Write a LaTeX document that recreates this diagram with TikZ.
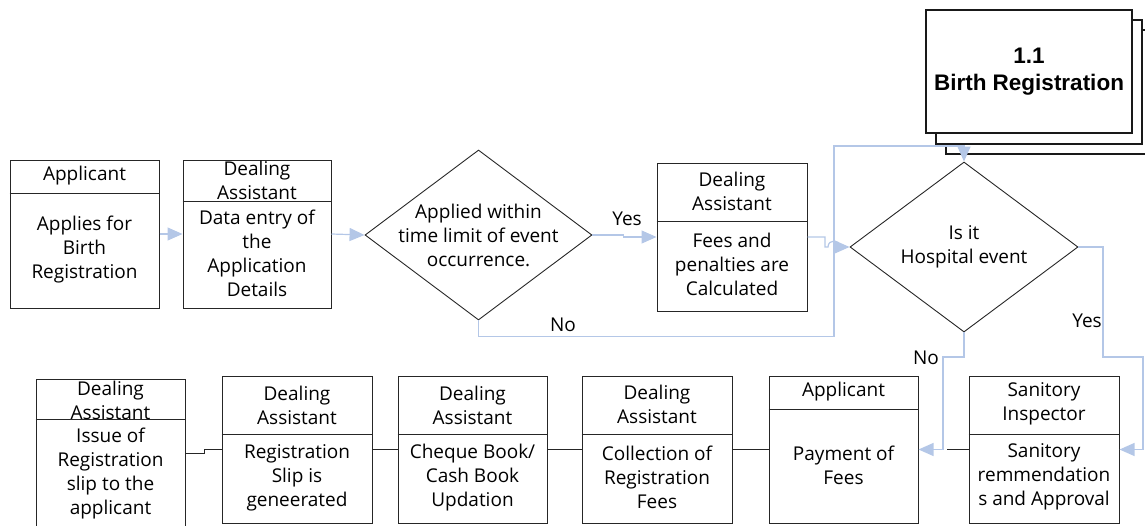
\documentclass[tikz,border=0pt]{standalone}
\usepackage{fontspec}
\setmainfont{Open Sans}
\newfontfamily\titlefont{Liberation Sans}
\usetikzlibrary{arrows.meta,shapes.geometric}

\definecolor{flowblue}{RGB}{180,199,231}

\tikzset{
  box/.style={draw=black!85, line width=1pt, inner sep=0pt},
  stackbox/.style={draw=black!90, line width=1.6pt, fill=white, inner sep=0pt},
  cond/.style={diamond, draw=black!85, line width=0.9pt, inner sep=0pt},
  txt/.style={align=center, inner sep=0pt, font=\fontsize{19}{24}\selectfont},
  flow/.style={draw=flowblue, line width=1.2pt, -{Triangle[length=15pt,width=13pt,fill=flowblue]}},
  link/.style={draw=black!85, line width=1pt},
}

\begin{document}
\begin{tikzpicture}[x=1pt,y=-1pt]
\useasboundingbox (0,0) rectangle (1145,525);

% process stack
\node[stackbox, minimum width=206pt, minimum height=124pt] (stack3) at (1049,92) {};
\node[stackbox, minimum width=206pt, minimum height=124pt] (stack2) at (1039,82) {};
\node[stackbox, minimum width=206pt, minimum height=123pt, align=center,
      font=\titlefont\bfseries\fontsize{22.5}{27}\selectfont] (stack1) at (1029,71.5) {1.1\\Birth Registration};

% top row
\node[box, minimum width=149pt, minimum height=148pt] (app) at (84.5,234) {};
\draw[link] (app.west |- 0,193) -- (app.east |- 0,193);
\node[txt] (app-h) at (84.5,176) {Applicant};
\node[txt] (app-b) at (84.5,250) {Applies for\\Birth\\Registration};

\node[box, minimum width=148pt, minimum height=148pt] (dea) at (257,234) {};
\draw[link] (dea.west |- 0,201) -- (dea.east |- 0,201);
\node[txt] (dea-h) at (257,180) {Dealing\\Assistant};
\node[txt] (dea-b) at (257,253) {Data entry of\\the\\Application\\Details};

\node[cond, minimum width=227pt, minimum height=170pt] (dec1) at (478.5,235) {};
\node[txt] (dec1-t) at (478.5,235) {Applied within\\time limit of event\\occurrence.};

\node[box, minimum width=150pt, minimum height=148pt] (fee) at (732,237) {};
\draw[link] (fee.west |- 0,221) -- (fee.east |- 0,221);
\node[txt] (fee-h) at (732,191) {Dealing\\Assistant};
\node[txt] (fee-b) at (732,264) {Fees and\\penalties are\\Calculated};

\node[cond, minimum width=228pt, minimum height=170pt] (dec2) at (964,247) {};
\node[txt] (dec2-t) at (964,247) {Is it\\Hospital event};

% bottom row
\node[box, minimum width=149pt, minimum height=161pt] (iss) at (110.5,459.5) {};
\draw[link] (iss.west |- 0,419) -- (iss.east |- 0,419);
\node[txt] (iss-h) at (110.5,400) {Dealing\\Assistant};
\node[txt] (iss-b) at (110.5,473.5) {Issue of\\Registration\\slip to the\\applicant};

\node[box, minimum width=150pt, minimum height=147pt] (reg) at (297,449.5) {};
\draw[link] (reg.west |- 0,434) -- (reg.east |- 0,434);
\node[txt] (reg-h) at (297,405) {Dealing\\Assistant};
\node[txt] (reg-b) at (297,478) {Registration\\Slip is\\geneerated};

\node[box, minimum width=149pt, minimum height=147pt] (chq) at (472.5,449.5) {};
\draw[link] (chq.west |- 0,434) -- (chq.east |- 0,434);
\node[txt] (chq-h) at (472.5,405) {Dealing\\Assistant};
\node[txt] (chq-b) at (472.5,478) {Cheque Book/\\Cash Book\\Updation};

\node[box, minimum width=150pt, minimum height=147pt] (col) at (657,449.5) {};
\draw[link] (col.west |- 0,434) -- (col.east |- 0,434);
\node[txt] (col-h) at (657,404) {Dealing\\Assistant};
\node[txt] (col-b) at (657,477) {Collection of\\Registration\\Fees};

\node[box, minimum width=149pt, minimum height=147pt] (pay) at (843.5,449.5) {};
\draw[link] (pay.west |- 0,409) -- (pay.east |- 0,409);
\node[txt] (pay-h) at (843.5,392) {Applicant};
\node[txt] (pay-b) at (843.5,465) {Payment of\\Fees};

\node[box, minimum width=150pt, minimum height=147pt] (san) at (1044,449.5) {};
\draw[link] (san.west |- 0,434) -- (san.east |- 0,434);
\node[txt] (san-h) at (1044,404) {Sanitory\\Inspector};
\node[txt] (san-b) at (1044,477) {Sanitory\\remmendation\\s and Approval};

% flow of the application
\draw[flow] (app) -- (dea);
\draw[flow] (dea.east) -- (dec1.west);
\draw[flow] (dec1.east) -- ++(31,0) |- (fee.west);
\node[txt] (yes1) at (627,219) {Yes};
\draw[flow] (dec1.south) -- ++(0,16) -| (834,146) -| (dec2.north);
\node[txt] (no1) at (563,325) {No};
\draw[flow] (fee.east) -- (825,237) -- (825,247) -- (828,247)
   .. controls (828,239) and (840,239) .. (840,247) -- (dec2.west);
\draw[flow] (dec2.east) -| (1103,357) -| (1143,449.5) -- (san.east);
\node[txt] (yes2) at (1087,321) {Yes};
\draw[flow] (dec2.south) -- (964,357) -| (943,449.5) -- (pay.east);
\node[txt] (no2) at (926,358) {No};

% payment and slip
\draw[link, shorten >=28pt] (san) -- (pay);
\draw[link] (pay) -- (col);
\draw[link] (col) -- (chq);
\draw[link] (chq) -- (reg);
\draw[link] (reg.west) -- (204,449.5) |- (iss.east |- 0,453);
\end{tikzpicture}
\end{document}
